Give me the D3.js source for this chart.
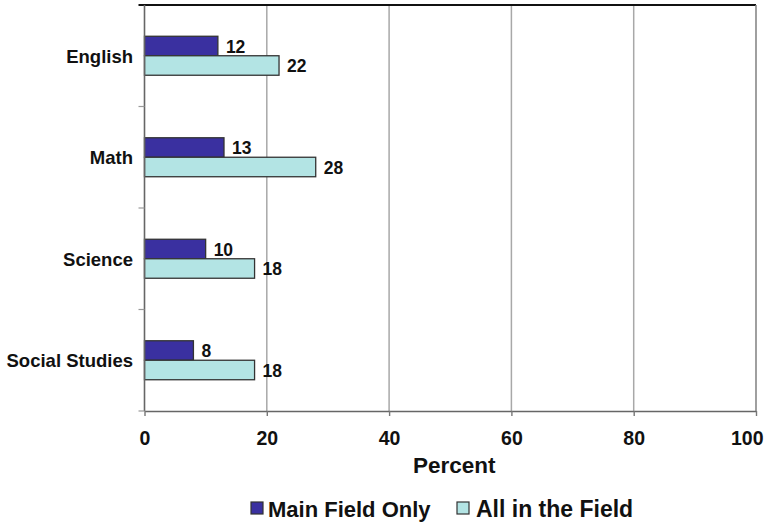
<!DOCTYPE html>
<html>
<head>
<meta charset="utf-8">
<script src="https://cdn.jsdelivr.net/npm/d3@7"></script>
<style>
  html, body { margin: 0; padding: 0; background: #fff; }
  svg { display: block; }
  text { font-family: "Liberation Sans", Arial, Helvetica, sans-serif; font-weight: bold; fill: #111; }
</style>
</head>
<body>
<svg id="chart" width="764" height="524"></svg>
<script>
// Subjects shown on the vertical axis, top to bottom
const subjects = ["English", "Math", "Science", "Social Studies"];
// Series names (legend order)
const seriesNames = ["Main Field Only", "All in the Field"];
// Percent of teachers for each subject
const mainFieldOnly = [12, 13, 10, 8];
const allInTheField = [22, 28, 18, 18];
// Percent axis ticks
const xTicks = [0, 20, 40, 60, 80, 100];

const colors = ["#3a30a0", "#b3e4e4"];

const rows = subjects.map((s, i) => ({ subject: s, values: [mainFieldOnly[i], allInTheField[i]] }));

const svg = d3.select("#chart");
const plotLeft = 144.5, plotRight = 756, plotTop = 5, plotBottom = 411;

const x = d3.scaleLinear().domain([0, 100]).range([plotLeft, plotRight]);
const y = d3.scaleBand().domain(subjects).range([plotTop, plotBottom])
  .paddingInner(0.616).paddingOuter(0.308);
const y1 = d3.scaleBand().domain(seriesNames).range([0, y.bandwidth()]);

// vertical gridlines
svg.append("g").selectAll("line").data(xTicks.slice(1, -1)).join("line")
  .attr("x1", d => x(d)).attr("x2", d => x(d))
  .attr("y1", plotTop).attr("y2", plotBottom)
  .attr("stroke", "#a8a8a8").attr("stroke-width", 1.5);

// plot frame: dark top edge, grey right edge
svg.append("line").attr("x1", plotLeft - 6).attr("x2", plotRight).attr("y1", plotTop).attr("y2", plotTop)
  .attr("stroke", "#111").attr("stroke-width", 1.8);
svg.append("line").attr("x1", plotRight).attr("x2", plotRight).attr("y1", plotTop).attr("y2", plotBottom)
  .attr("stroke", "#888").attr("stroke-width", 1.6);

// bars
const groups = svg.append("g").selectAll("g").data(rows).join("g")
  .attr("transform", d => `translate(0,${y(d.subject)})`);

groups.selectAll("rect").data(d => d.values.map((v, k) => ({ v, k }))).join("rect")
  .attr("x", x(0))
  .attr("y", d => y1(seriesNames[d.k]))
  .attr("width", d => x(d.v) - x(0))
  .attr("height", y1.bandwidth())
  .attr("fill", d => colors[d.k])
  .attr("stroke", "#333").attr("stroke-width", 1.3);

// value labels
groups.selectAll("text.val").data(d => d.values.map((v, k) => ({ v, k }))).join("text")
  .attr("class", "val")
  .attr("x", d => x(d.v) + 8)
  .attr("y", d => y1(seriesNames[d.k]) + y1.bandwidth() - 3)
  .style("font-size", "17.5px")
  .text(d => d.v);

// left (category) axis
const yAxis = svg.append("g");
yAxis.append("line").attr("x1", plotLeft).attr("x2", plotLeft).attr("y1", plotTop).attr("y2", plotBottom)
  .attr("stroke", "#666").attr("stroke-width", 1.6);
const step = y.step();
const boundaries = d3.range(subjects.length + 1).map(i => plotTop + i * step);
yAxis.selectAll("line.tick").data(boundaries.slice(1)).join("line")
  .attr("class", "tick")
  .attr("x1", plotLeft - 6).attr("x2", plotLeft).attr("y1", d => d).attr("y2", d => d)
  .attr("stroke", "#999").attr("stroke-width", 1.2);
yAxis.selectAll("text").data(subjects).join("text")
  .attr("x", 133)
  .attr("y", d => y(d) + y.bandwidth() / 2 + 7)
  .attr("text-anchor", "end")
  .style("font-size", "18.5px")
  .text(d => d);

// bottom (percent) axis
const xAxisG = svg.append("g").attr("transform", `translate(0,${plotBottom})`)
  .call(d3.axisBottom(x).tickValues(xTicks).tickSize(5).tickPadding(15).tickSizeOuter(0));
xAxisG.select(".domain").attr("stroke", "#666").attr("stroke-width", 1.6);
xAxisG.selectAll(".tick line").attr("stroke", "#777").attr("stroke-width", 1.4);
xAxisG.selectAll(".tick text")
  .style("font-size", "19.5px").style("font-family", "'Liberation Sans', Arial, sans-serif")
  .style("font-weight", "bold").attr("fill", "#111");
// keep the last tick label inside the window's right edge
xAxisG.selectAll(".tick text").filter(d => d === xTicks[xTicks.length - 1])
  .attr("text-anchor", "end").attr("x", 763 - plotRight);

svg.append("text")
  .attr("x", (x(40) + x(60)) / 2 + 4).attr("y", 473)
  .attr("text-anchor", "middle")
  .style("font-size", "22.5px")
  .text("Percent");

// legend
const legendItems = [
  { name: seriesNames[0], color: colors[0], sx: 251, tx: 268, fs: 22 },
  { name: seriesNames[1], color: colors[1], sx: 457, tx: 476, fs: 23 }
];
const lg = svg.append("g").selectAll("g").data(legendItems).join("g");
lg.append("rect")
  .attr("x", d => d.sx).attr("y", 502).attr("width", 12).attr("height", 12)
  .attr("fill", d => d.color).attr("stroke", "#333").attr("stroke-width", 1.2);
lg.append("text")
  .attr("x", d => d.tx).attr("y", 517)
  .style("font-size", d => d.fs + "px")
  .text(d => d.name);
</script>
</body>
</html>
